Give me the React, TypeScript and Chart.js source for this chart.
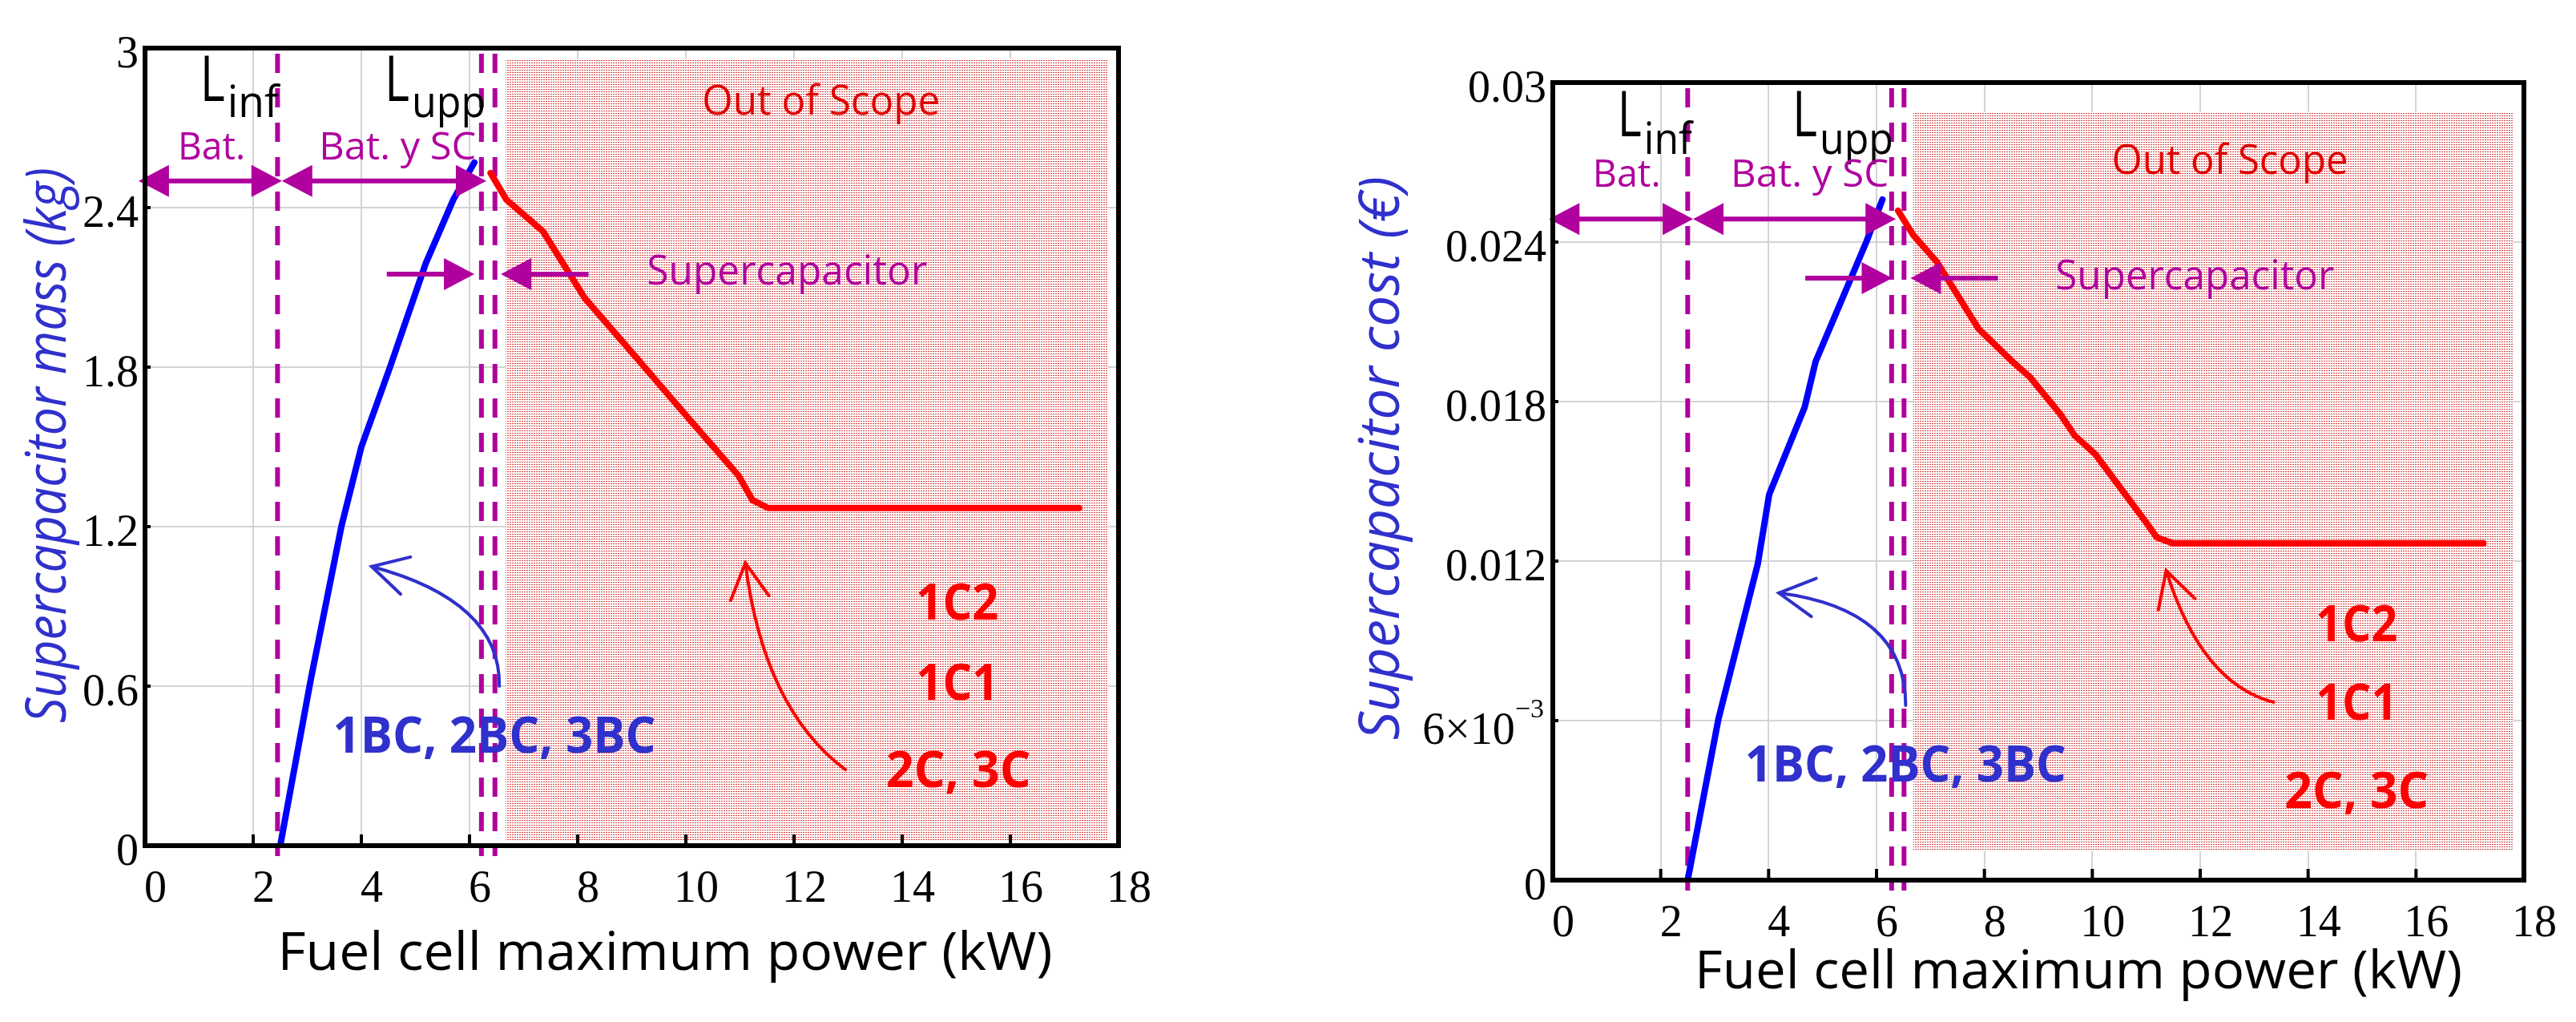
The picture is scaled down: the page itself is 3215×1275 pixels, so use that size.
import React, { useEffect, useRef } from 'react';
import { Chart, registerables } from 'chart.js';

Chart.register(...registerables);

// ---------------- data ----------------
const powerTicks = [0, 2, 4, 6, 8, 10, 12, 14, 16, 18];
const massTicks = [0, 0.6, 1.2, 1.8, 2.4, 3];
const massTickLabels = ['0', '0.6', '1.2', '1.8', '2.4', '3'];
const costTicks = [0, 0.006, 0.012, 0.018, 0.024, 0.03];
const costTickLabels = ['0', '', '0.012', '0.018', '0.024', '0.03'];
const costSciMantissa = '6\u00d710';
const costSciExponent = '\u22123';

// blue: 1BC, 2BC, 3BC (battery + supercapacitor)
const massBluePower = [2.5, 3.06, 3.63, 4.0, 4.53, 5.19, 5.7, 6.09];
const massBlue = [0, 0.62, 1.2, 1.5, 1.8, 2.19, 2.43, 2.57];
// red: 1C1, 1C2, 2C, 3C (supercapacitor only)
const massRedPower = [6.39, 6.68, 7.36, 8.13, 9.11, 9.7, 10.04, 10.98, 11.23, 11.52, 17.27];
const massRed = [2.53, 2.43, 2.31, 2.06, 1.83, 1.69, 1.61, 1.39, 1.3, 1.27, 1.27];

const costBluePower = [2.5, 3.07, 3.8, 4.01, 4.67, 4.87, 5.33, 5.81, 6.11];
const costBlue = [0, 0.00606, 0.0119, 0.0145, 0.0178, 0.0195, 0.0217, 0.024, 0.0256];
const costRedPower = [6.4, 6.68, 7.12, 7.89, 8.5, 8.84, 9.41, 9.67, 10.06, 11.01, 11.19, 11.49, 17.25];
const costRed = [0.02518, 0.02427, 0.02325, 0.02074, 0.01954, 0.01893, 0.01752, 0.01673, 0.01601, 0.01342, 0.0129, 0.01267, 0.01267];

// limits L_inf, L_upp (double line)
const massLimits = [2.45, 6.22, 6.47];
const costLimits = [2.5, 6.28, 6.51];
// out-of-scope band [x0, x1, y0, y1]
const massShade = [6.67, 17.8, 0.02, 2.96];
const costShade = [6.68, 17.8, 0.0011, 0.0289];

const xTitle = 'Fuel cell maximum power (kW)';
const massTitle = 'Supercapacitor mass (kg)';
const costTitle = 'Supercapacitor cost (\u20ac)';

// ---------------- styles ----------------
const SANS = '"Open Sans", "DejaVu Sans", sans-serif';
const SERIF = '"Liberation Serif", "Times New Roman", serif';
const MAGENTA = '#b0009e';
const BLUE_TEXT = '#3030cc';
const RED_TEXT = '#ff0000';
const SCOPE_RED = '#e00000';

type Note = { text: string; x: number; y: number; font: string; color: string; w: number };
type LNote = { sub: string; x: number; y: number; lw: number; sw: number; drop: number };

interface Panel {
  left: number; width: number; padTop: number; padRight: number; yWidth: number; xHeight: number;
  yMax: number; yTicks: number[]; yLabels: string[];
  blueX: number[]; blueY: number[]; redX: number[]; redY: number[];
  limits: number[]; shade: number[];
  yTitle: string; yTitleDx: number; yTitleDy: number; yTitleW: number;
  xTitleDx: number; xTitleDy: number; xTitleW: number;
  Ls: LNote[];
  notes: Note[];
  dblY: number; dblSegs: number[][];
  scY: number; scRight: number[]; scLeft: number[];
  curves: { color: string; pts: number[][] }[];
  sci: boolean;
}

const massPanel: Panel = {
  left: 0, width: 1550, padTop: 60, padRight: 154, yWidth: 181, xHeight: 220,
  yMax: 3, yTicks: massTicks, yLabels: massTickLabels,
  blueX: massBluePower, blueY: massBlue, redX: massRedPower, redY: massRed,
  limits: massLimits, shade: massShade,
  yTitle: massTitle, yTitleDx: -99, yTitleDy: -2, yTitleW: 693,
  xTitleDx: 649, xTitleDy: 155, xTitleW: 967,
  Ls: [
    { sub: 'inf', x: 1.02, y: 2.8, lw: 31, sw: 64, drop: 20 },
    { sub: 'upp', x: 4.43, y: 2.8, lw: 31, sw: 92, drop: 20 },
  ],
  notes: [
    { text: 'Bat.', x: 1.23, y: 2.58, font: `48px ${SANS}`, color: MAGENTA, w: 84 },
    { text: 'Bat. y SC', x: 4.67, y: 2.58, font: `48px ${SANS}`, color: MAGENTA, w: 196 },
    { text: 'Supercapacitor', x: 11.87, y: 2.11, font: `52px ${SANS}`, color: MAGENTA, w: 350 },
    { text: 'Out of Scope', x: 12.5, y: 2.75, font: `52px ${SANS}`, color: SCOPE_RED, w: 297 },
    { text: '1BC, 2BC, 3BC', x: 6.46, y: 0.35, font: `bold 62px ${SANS}`, color: BLUE_TEXT, w: 403 },
    { text: '1C2', x: 15.02, y: 0.85, font: `bold 62px ${SANS}`, color: RED_TEXT, w: 103 },
    { text: '1C1', x: 15.02, y: 0.55, font: `bold 62px ${SANS}`, color: RED_TEXT, w: 103 },
    { text: '2C, 3C', x: 15.04, y: 0.22, font: `bold 62px ${SANS}`, color: RED_TEXT, w: 181 },
  ],
  dblY: 2.5, dblSegs: [[-0.12, 2.53], [2.53, 6.31]],
  scY: 2.15, scRight: [4.47, 6.09], scLeft: [6.58, 8.2],
  curves: [
    { color: BLUE_TEXT, pts: [[6.55, 0.6], [6.58, 0.92], [4.19, 1.05]] },
    { color: RED_TEXT, pts: [[12.95, 0.286], [11.44, 0.515], [11.1, 1.063]] },
  ],
  sci: false,
};

const costPanel: Panel = {
  left: 1550, width: 1665, padTop: 103, padRight: 65, yWidth: 388, xHeight: 177,
  yMax: 0.03, yTicks: costTicks, yLabels: costTickLabels,
  blueX: costBluePower, blueY: costBlue, redX: costRedPower, redY: costRed,
  limits: costLimits, shade: costShade,
  yTitle: costTitle, yTitleDx: -192, yTitleDy: -29, yTitleW: 703,
  xTitleDx: 656, xTitleDy: 135, xTitleW: 958,
  Ls: [
    { sub: 'inf', x: 1.2, y: 0.02798, lw: 30, sw: 60, drop: 22 },
    { sub: 'upp', x: 4.44, y: 0.02798, lw: 31, sw: 92, drop: 22 },
  ],
  notes: [
    { text: 'Bat.', x: 1.37, y: 0.02608, font: `48px ${SANS}`, color: MAGENTA, w: 85 },
    { text: 'Bat. y SC', x: 4.76, y: 0.02608, font: `48px ${SANS}`, color: MAGENTA, w: 197 },
    { text: 'Supercapacitor', x: 11.9, y: 0.02222, font: `52px ${SANS}`, color: MAGENTA, w: 348 },
    { text: 'Out of Scope', x: 12.55, y: 0.02656, font: `52px ${SANS}`, color: SCOPE_RED, w: 295 },
    { text: '1BC, 2BC, 3BC', x: 6.54, y: 0.00371, font: `bold 62px ${SANS}`, color: BLUE_TEXT, w: 401 },
    { text: '1C2', x: 14.9, y: 0.00898, font: `bold 62px ${SANS}`, color: RED_TEXT, w: 102 },
    { text: '1C1', x: 14.9, y: 0.00603, font: `bold 62px ${SANS}`, color: RED_TEXT, w: 102 },
    { text: '2C, 3C', x: 14.9, y: 0.00271, font: `bold 62px ${SANS}`, color: RED_TEXT, w: 180 },
  ],
  dblY: 0.02487, dblSegs: [[-0.07, 2.6], [2.6, 6.36]],
  scY: 0.02264, scRight: [4.68, 6.29], scLeft: [6.63, 8.25],
  curves: [
    { color: BLUE_TEXT, pts: [[6.54, 0.00657], [6.54, 0.01019], [4.19, 0.0108]] },
    { color: RED_TEXT, pts: [[13.36, 0.00669], [12.02, 0.00739], [11.37, 0.01164]] },
  ],
  sci: true,
};

// ---------------- drawing helpers ----------------
function drawText(ctx: CanvasRenderingContext2D, s: string, x: number, y: number, font: string, color: string, align: string, width?: number) {
  ctx.save();
  ctx.font = font;
  ctx.fillStyle = color;
  ctx.textBaseline = 'alphabetic';
  ctx.textAlign = 'left';
  const w = ctx.measureText(s).width;
  const sx = width ? width / w : 1;
  const x0 = align === 'left' ? x : align === 'center' ? x - (w * sx) / 2 : x - w * sx;
  ctx.translate(x0, y);
  ctx.scale(sx, 1);
  ctx.fillText(s, 0, 0);
  ctx.restore();
}

function head(ctx: CanvasRenderingContext2D, tx: number, ty: number, dir: number) {
  const len = 38, half = 20;
  ctx.beginPath();
  ctx.moveTo(tx, ty);
  ctx.lineTo(tx - dir * len, ty - half);
  ctx.lineTo(tx - dir * len, ty + half);
  ctx.closePath();
  ctx.fill();
}

function makePattern(ctx: CanvasRenderingContext2D) {
  const c = document.createElement('canvas');
  c.width = 3; c.height = 3;
  const g = c.getContext('2d')!;
  g.fillStyle = '#ffffff';
  g.fillRect(0, 0, 3, 3);
  g.fillStyle = 'rgb(215,60,60)';
  g.fillRect(0, 0, 2, 1);
  return ctx.createPattern(c, 'repeat');
}

function buildChart(canvas: HTMLCanvasElement, p: Panel) {
  const ctx0 = canvas.getContext('2d')!;
  const pattern = makePattern(ctx0);

  const decor = {
    id: 'decor',
    beforeDatasetsDraw(chart: any) {
      const { ctx, chartArea: a } = chart;
      const xs = chart.scales.x, ys = chart.scales.y;
      ctx.save();
      ctx.fillStyle = pattern || 'rgba(240,150,150,0.4)';
      const sx0 = xs.getPixelForValue(p.shade[0]), sx1 = xs.getPixelForValue(p.shade[1]);
      const sy0 = ys.getPixelForValue(p.shade[2]), sy1 = ys.getPixelForValue(p.shade[3]);
      ctx.fillRect(sx0, sy1, sx1 - sx0, sy0 - sy1);
      ctx.strokeStyle = MAGENTA;
      ctx.lineWidth = 6;
      ctx.setLineDash([24, 19]);
      for (const v of p.limits) {
        const px = xs.getPixelForValue(v);
        ctx.beginPath();
        ctx.moveTo(px, a.top + 7);
        ctx.lineTo(px, a.bottom + 13);
        ctx.stroke();
      }
      ctx.restore();
    },
    afterDatasetsDraw(chart: any) {
      const { ctx, chartArea: a } = chart;
      const xs = chart.scales.x, ys = chart.scales.y;
      const X = (v: number) => xs.getPixelForValue(v);
      const Y = (v: number) => ys.getPixelForValue(v);
      ctx.save();
      ctx.strokeStyle = MAGENTA;
      ctx.fillStyle = MAGENTA;
      ctx.lineWidth = 6;
      const dy = Y(p.dblY);
      for (const [s0, s1] of p.dblSegs) {
        const a0 = X(s0), a1 = X(s1);
        ctx.beginPath();
        ctx.moveTo(a0 + 20, dy);
        ctx.lineTo(a1 - 20, dy);
        ctx.stroke();
        head(ctx, a0, dy, -1);
        head(ctx, a1, dy, 1);
      }
      const sy = Y(p.scY);
      ctx.beginPath();
      ctx.moveTo(X(p.scRight[0]), sy);
      ctx.lineTo(X(p.scRight[1]) - 20, sy);
      ctx.stroke();
      head(ctx, X(p.scRight[1]), sy, 1);
      ctx.beginPath();
      ctx.moveTo(X(p.scLeft[0]) + 20, sy);
      ctx.lineTo(X(p.scLeft[1]), sy);
      ctx.stroke();
      head(ctx, X(p.scLeft[0]), sy, -1);

      for (const c of p.curves) {
        const [t, k, h] = c.pts.map(([u, v]) => [X(u), Y(v)]);
        ctx.strokeStyle = c.color;
        ctx.lineWidth = 4;
        ctx.lineCap = 'round';
        ctx.beginPath();
        ctx.moveTo(t[0], t[1]);
        ctx.quadraticCurveTo(k[0], k[1], h[0], h[1]);
        ctx.stroke();
        const ang = Math.atan2(h[1] - k[1], h[0] - k[0]);
        const L = 50, spread = 0.5;
        ctx.beginPath();
        ctx.moveTo(h[0] - L * Math.cos(ang - spread), h[1] - L * Math.sin(ang - spread));
        ctx.lineTo(h[0], h[1]);
        ctx.lineTo(h[0] - L * Math.cos(ang + spread), h[1] - L * Math.sin(ang + spread));
        ctx.stroke();
      }

      for (const l of p.Ls) {
        const lx = X(l.x), ly = Y(l.y);
        drawText(ctx, 'L', lx, ly, `78px ${SANS}`, '#000', 'left', l.lw);
        drawText(ctx, l.sub, lx + l.lw + 3, ly + l.drop, `54px ${SANS}`, '#000', 'left', l.sw);
      }
      for (const n of p.notes) {
        drawText(ctx, n.text, X(n.x), Y(n.y), n.font, n.color, 'center', n.w);
      }

      ctx.strokeStyle = '#000';
      ctx.lineWidth = 6;
      ctx.lineCap = 'butt';
      ctx.strokeRect(a.left, a.top, a.right - a.left, a.bottom - a.top);
      ctx.lineWidth = 4;
      for (const v of powerTicks) {
        if (v === 0) continue;
        const px = X(v);
        ctx.beginPath();
        ctx.moveTo(px, a.bottom);
        ctx.lineTo(px, a.bottom - 14);
        ctx.stroke();
      }
      for (const v of p.yTicks) {
        const py = Y(v);
        ctx.beginPath();
        ctx.moveTo(a.left, py);
        ctx.lineTo(a.left + 7, py);
        ctx.stroke();
      }
      ctx.restore();
    },
    afterDraw(chart: any) {
      const { ctx, chartArea: a } = chart;
      ctx.save();
      drawText(ctx, xTitle, a.left + p.xTitleDx, a.bottom + p.xTitleDy, `66px ${SANS}`, '#000', 'center', p.xTitleW);
      ctx.translate(a.left + p.yTitleDx, (a.top + a.bottom) / 2 + p.yTitleDy);
      ctx.rotate(-Math.PI / 2);
      drawText(ctx, p.yTitle, 0, 0, `italic 70px ${SANS}`, BLUE_TEXT, 'center', p.yTitleW);
      ctx.restore();
      if (p.sci) {
        const py = chart.scales.y.getPixelForValue(costTicks[1]);
        ctx.save();
        ctx.font = `34px ${SERIF}`;
        const ew = ctx.measureText(costSciExponent).width;
        drawText(ctx, costSciExponent, a.left - 11, py - 4, `34px ${SERIF}`, '#000', 'right');
        drawText(ctx, costSciMantissa, a.left - 11 - ew, py + 29, `56px ${SERIF}`, '#000', 'right');
        ctx.restore();
      }
    },
  };

  const line = (xs: number[], ys: number[], color: string) => ({
    data: xs.map((x, i) => ({ x, y: ys[i] })),
    borderColor: color,
    backgroundColor: color,
    borderWidth: 8,
    pointRadius: 0,
    borderCapStyle: 'round',
    borderJoinStyle: 'round',
    tension: 0,
    fill: false,
  });

  return new Chart(canvas, {
    type: 'line',
    data: { datasets: [line(p.blueX, p.blueY, '#0000ff'), line(p.redX, p.redY, '#ff0000')] as any },
    options: {
      responsive: false,
      animation: false,
      devicePixelRatio: 1,
      layout: { padding: { left: 0, top: p.padTop, right: p.padRight, bottom: 0 } },
      plugins: { legend: { display: false }, tooltip: { enabled: false }, title: { display: false } },
      scales: {
        x: {
          type: 'linear',
          min: 0,
          max: 18,
          afterBuildTicks: (s: any) => { s.ticks = powerTicks.map((v) => ({ value: v })); },
          afterFit: (s: any) => { s.height = p.xHeight; },
          ticks: {
            font: { family: SERIF, size: 56 },
            color: '#000',
            padding: 22,
            labelOffset: 13,
            maxRotation: 0,
            autoSkip: false,
            callback: (v: any) => String(v),
          },
          grid: { color: '#d4d4d4', lineWidth: 2, drawTicks: false },
          border: { display: false },
        },
        y: {
          type: 'linear',
          min: 0,
          max: p.yMax,
          afterBuildTicks: (s: any) => { s.ticks = p.yTicks.map((v) => ({ value: v })); },
          afterFit: (s: any) => { s.width = p.yWidth; },
          ticks: {
            font: { family: SERIF, size: 56 },
            color: '#000',
            padding: 8,
            labelOffset: 9,
            autoSkip: false,
            callback: (_v: any, i: number) => p.yLabels[i],
          },
          grid: { color: '#d4d4d4', lineWidth: 2, drawTicks: false },
          border: { display: false },
        },
      },
    } as any,
    plugins: [decor],
  });
}

function PanelChart({ panel }: { panel: Panel }) {
  const ref = useRef<HTMLCanvasElement>(null);
  useEffect(() => {
    if (!ref.current) return;
    const chart = buildChart(ref.current, panel);
    return () => chart.destroy();
  }, [panel]);
  return (
    <canvas
      ref={ref}
      width={panel.width}
      height={1275}
      style={{ position: 'absolute', left: panel.left, top: 0, width: panel.width, height: 1275 }}
    />
  );
}

export default function App() {
  useEffect(() => {
    document.body.style.margin = '0';
  }, []);
  return (
    <div style={{ position: 'relative', width: 3215, height: 1275, background: '#fff', overflow: 'hidden' }}>
      <PanelChart panel={massPanel} />
      <PanelChart panel={costPanel} />
    </div>
  );
}
